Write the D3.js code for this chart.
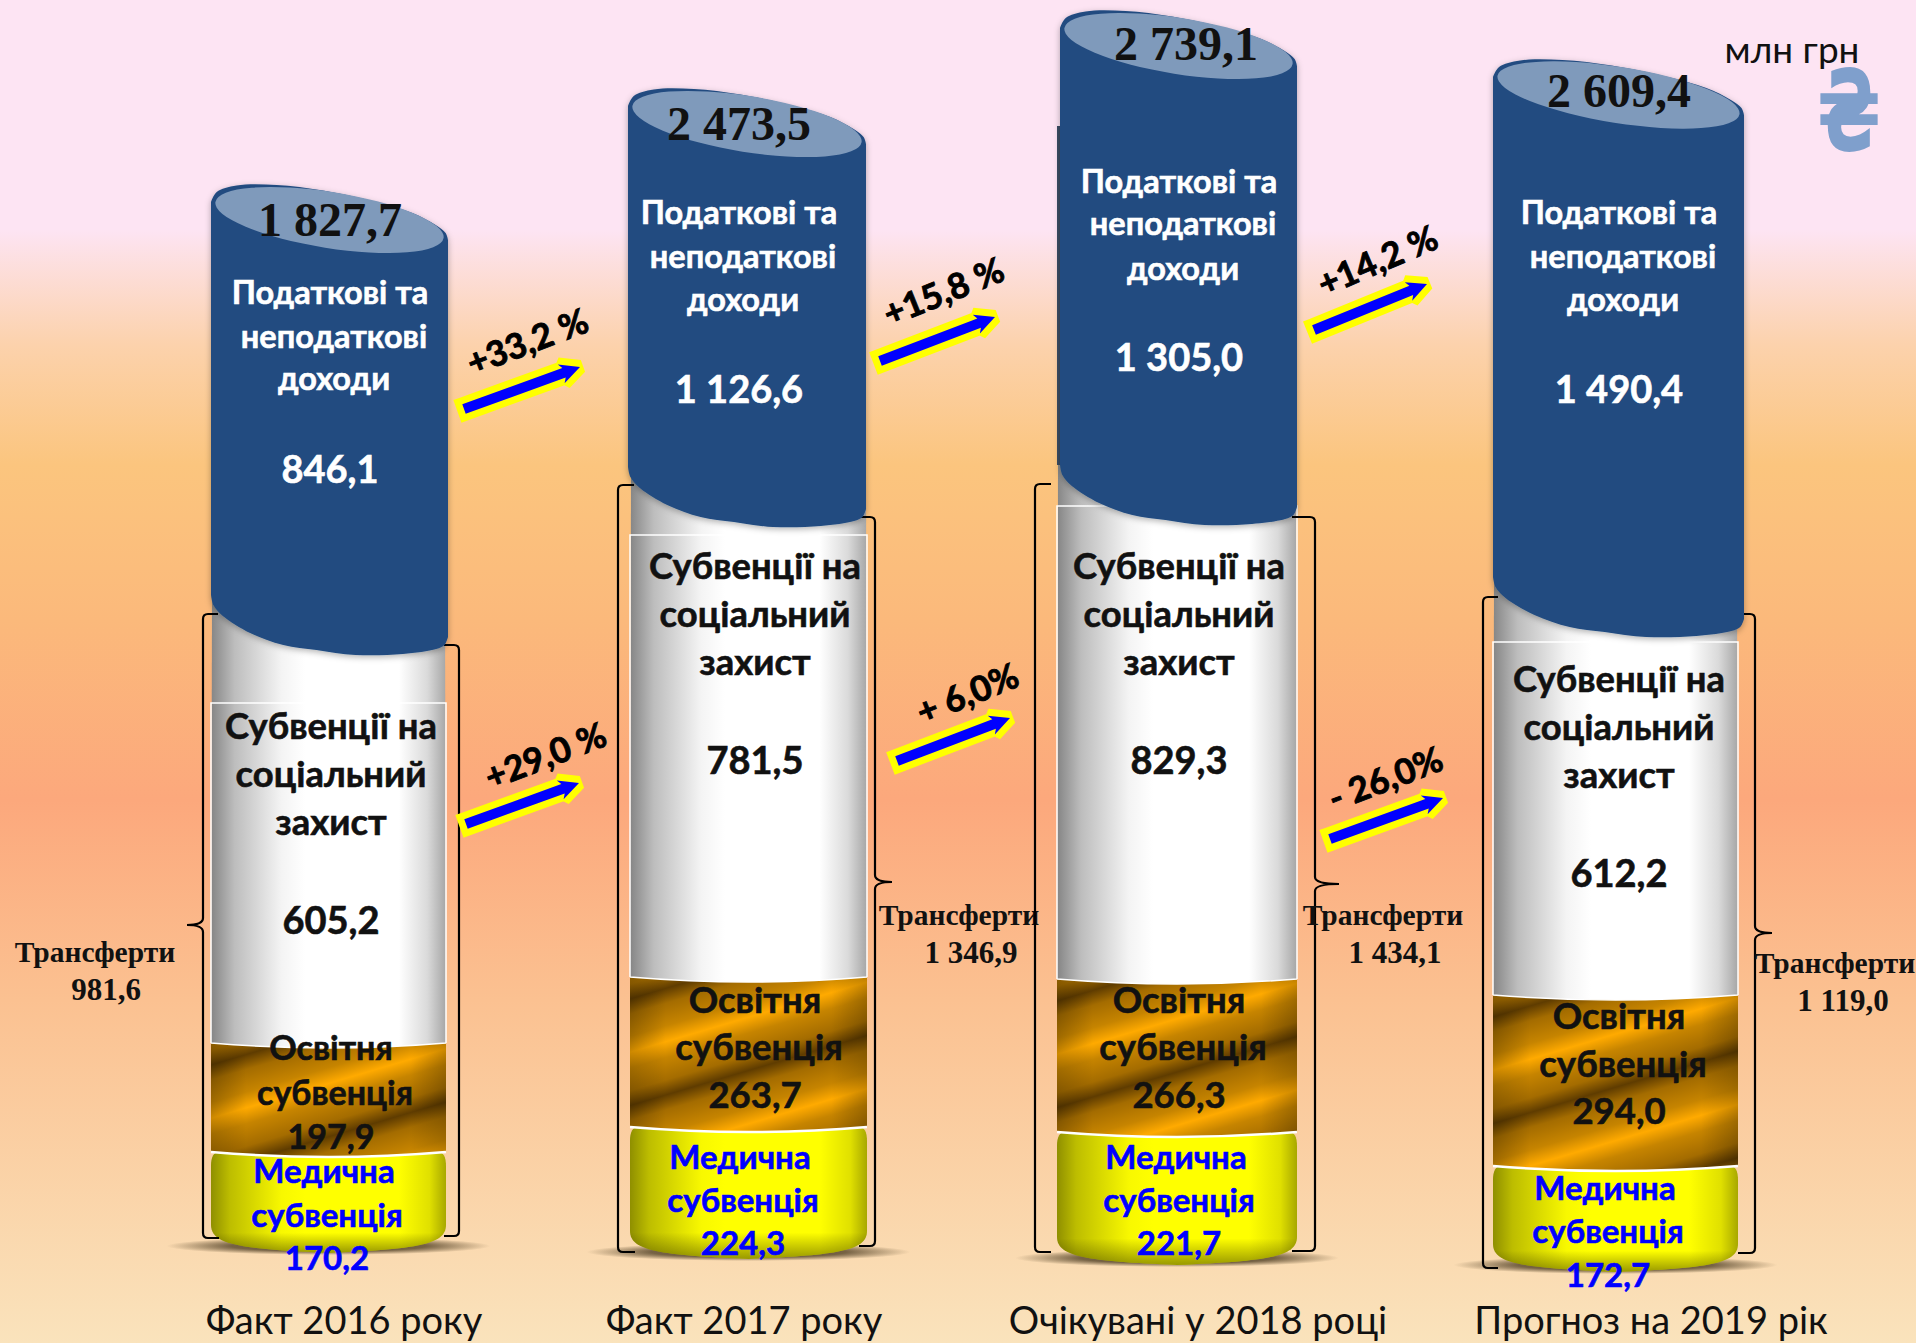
<!DOCTYPE html>
<html>
<head>
<meta charset="utf-8">
<script src="https://cdn.jsdelivr.net/npm/d3@7"></script>
<style>
html, body { margin: 0; padding: 0; background: #fff; }
svg { display: block; }
.sans { font-family: Lato, "Noto Sans", sans-serif; }
.serif { font-family: "Liberation Serif", serif; font-weight: bold; }
</style>
</head>
<body>
<svg id="chart" width="1918" height="1343"></svg>
<script>
// data
var categories = ["Факт 2016 року", "Факт 2017 року", "Очікувані у 2018 році", "Прогноз на 2019 рік"];
var totals = [1827.7, 2473.5, 2739.1, 2609.4];
var taxIncome = [846.1, 1126.6, 1305.0, 1490.4];
var socialSubvention = [605.2, 781.5, 829.3, 612.2];
var educationSubvention = [197.9, 263.7, 266.3, 294.0];
var medicalSubvention = [170.2, 224.3, 221.7, 172.7];
var transfers = [981.6, 1346.9, 1434.1, 1119.0];
var incomeGrowth = ["+33,2 %", "+15,8 %", "+14,2 %"];
var transferGrowth = ["+29,0 %", "+ 6,0%", "- 26,0%"];
var taxLines = ["Податкові та", "неподаткові", "доходи"];
var socialLines = ["Субвенції на", "соціальний", "захист"];
var eduLines = ["Освітня", "субвенція"];
var medLines = ["Медична", "субвенція"];

// layout. The poster is not drawn to one common scale, each column has its own
// piecewise scale: base, medical top, education top, social top, column top
var stackRange = [
	[1253, 1152, 1043, 655, 184],
	[1259, 1127, 977, 527, 88],
	[1265, 1132, 979, 525, 10],
	[1272, 1166, 995, 637, 59]
];
var boxTop = [703, 535, 506, 642];
var lowerX = [[211, 446], [630, 867], [1057, 1297], [1493, 1738]];
var blueX = [[211, 448], [628, 866], [1060, 1297], [1493, 1744]];
var W = 1916, H = 1343;

var taxText = [{cx: 330, y: [304, 348, 390, 483]}, {cx: 739, y: [224, 268, 311, 403]}, {cx: 1179, y: [193, 235, 280, 371]}, {cx: 1619, y: [224, 268, 311, 403]}];
var socText = [{cx: 331, y: 739}, {cx: 755, y: 579}, {cx: 1179, y: 579}, {cx: 1619, y: 692}];
var eduText = [{cx: 331, y: [1060, 1105, 1149], fs: 34}, {cx: 755, y: [1013, 1060, 1108], fs: 36.5}, {cx: 1179, y: [1013, 1060, 1108], fs: 36.5}, {cx: 1619, y: [1029, 1077, 1124], fs: 36.5}];
var medText = [{cx: 324, y: [1183, 1227, 1270]}, {cx: 740, y: [1169, 1212, 1255]}, {cx: 1176, y: [1169, 1212, 1255]}, {cx: 1605, y: [1200, 1243, 1287]}];
var totalText = [{cx: 330, y: 236}, {cx: 739, y: 140}, {cx: 1186, y: 60}, {cx: 1619, y: 107}];
var transText = [{cx: 95, cxv: 106, y: 962}, {cx: 959, cxv: 971, y: 925}, {cx: 1383, cxv: 1395, y: 925}, {cx: 1835, cxv: 1843, y: 973}];
var catText = [344, 744, 1198, 1651];

var brackets = [
	{lx: 203, lTop: 614, lBot: 1238, lEnd: [218, 219], rx: 459, rTop: 645, rBot: 1236, rEnd: [444, 444], tipY: 925, tipX: 187},
	{lx: 618, lTop: 485, lBot: 1252, lEnd: [634, 635], rx: 875, rTop: 517, rBot: 1246, rEnd: [859, 859], tipY: 882, tipX: 892},
	{lx: 1035, lTop: 484, lBot: 1252, lEnd: [1051, 1051], rx: 1315, rTop: 517, rBot: 1251, rEnd: [1292, 1292], tipY: 884, tipX: 1339},
	{lx: 1483, lTop: 597, lBot: 1268, lEnd: [1498, 1498], rx: 1755, rTop: 614, rBot: 1253, rEnd: [1744, 1738], tipY: 933, tipX: 1772}
];

var incomeArrows = [{from: [464, 409], to: [580, 367], tx: [528, 343]}, {from: [880, 361], to: [995, 317], tx: [944, 293]}, {from: [1314, 330], to: [1427, 284], tx: [1378, 262]}];
var transferArrows = [{from: [466, 824], to: [579, 783], tx: [546, 757]}, {from: [897, 761], to: [1010, 718], tx: [968, 695]}, {from: [1330, 839], to: [1443, 798], tx: [1386, 780]}];

// outline of the tilted top and the bottom of the blue cylinder, [share of width, px from edge]
var rimProfile = [[0, 18], [.024, 8], [.108, 1.5], [.277, 1], [.473, 6.5], [.697, 18], [.85, 29], [.948, 41], [.99, 49], [1, 56]];
var hemProfile = [[1, 18], [.985, 10], [.95, 6], [.81, 1], [.61, 0], [.445, 5], [.305, 10], [.165, 22], [.05, 39], [.01, 50], [0, 60]];

var fmt = function(v) {
	var s = v.toFixed(1).replace(".", ",");
	return s.replace(/^(\d)(\d{3})/, "$1 $2");
};

var svg = d3.select("#chart");
var defs = svg.append("defs");

function addGradient(id, stops, attrs) {
	var g = defs.append("linearGradient").attr("id", id);
	Object.keys(attrs || {}).forEach(function(k) { g.attr(k, attrs[k]); });
	stops.forEach(function(s) {
		var st = g.append("stop").attr("offset", s[0]).attr("stop-color", s[1]);
		if (s[2] !== undefined) st.attr("stop-opacity", s[2]);
	});
}

addGradient("bg", [[0, "#FDE4F3"], [230 / H, "#FDE4F3"], [345 / H, "#FCD2AC"], [465 / H, "#FBC57E"], [620 / H, "#FBB97B"], [800 / H, "#FCA87C"], [1000 / H, "#FBC191"], [1, "#FAE3BC"]], {x1: 0, y1: 0, x2: 0, y2: 1});
addGradient("white", [[0, "#858585"], [.1, "#BDBDBD"], [.3, "#F4F4F4"], [.4, "#FFFFFF"], [.8, "#FFFFFF"], [.92, "#DADADA"], [1, "#A6A6A6"]]);
addGradient("yellow", [[0, "#8F8F00"], [.08, "#BDBD00"], [.3, "#F8F800"], [.4, "#FFFF00"], [.8, "#FFFF00"], [.93, "#E0E000"], [1, "#A8A800"]]);
addGradient("yellowShade", [[0, "#333300", 0], [.8, "#333300", 0], [1, "#333300", .5]], {x1: 0, y1: 0, x2: 0, y2: 1});
addGradient("brownSide", [[0, "#000", .2], [.15, "#000", 0], [.85, "#000", 0], [1, "#000", .2]]);

var shadowGrad = defs.append("radialGradient").attr("id", "floor");
shadowGrad.append("stop").attr("offset", 0).attr("stop-color", "#4A3A20").attr("stop-opacity", .9);
shadowGrad.append("stop").attr("offset", .6).attr("stop-color", "#4A3A20").attr("stop-opacity", .75);
shadowGrad.append("stop").attr("offset", 1).attr("stop-color", "#4A3A20").attr("stop-opacity", 0);

var glow = defs.append("filter").attr("id", "soft").attr("x", "-10%").attr("y", "-10%").attr("width", "120%").attr("height", "120%");
glow.append("feDropShadow").attr("dx", 0).attr("dy", 2).attr("stdDeviation", 3).attr("flood-color", "#000").attr("flood-opacity", .3);

svg.append("rect").attr("width", W).attr("height", H).attr("fill", "url(#bg)");

var profileLine = d3.line().curve(d3.curveCatmullRom.alpha(.5));

columnsDraw();
arrowsDraw();

svg.append("text").attr("class", "sans").attr("x", 1792).attr("y", 63).attr("text-anchor", "middle")
	.attr("font-size", 37).attr("fill", "#111").text("млн грн");
svg.append("text").attr("transform", "translate(1849 150) scale(.66 1)").attr("text-anchor", "middle")
	.attr("font-family", "DejaVu Sans").attr("font-weight", "bold").attr("font-size", 112).attr("fill", "#7F9FCC").text("₴");

function columnsDraw() {
	categories.forEach(function(cat, i) {
		var g = svg.append("g").attr("class", "column");
		var cum = d3.cumsum([medicalSubvention[i], educationSubvention[i], socialSubvention[i], taxIncome[i]]);
		var y = d3.scaleLinear().domain([0].concat(Array.from(cum))).range(stackRange[i]);
		var x0 = lowerX[i][0], x1 = lowerX[i][1];
		var cx = (x0 + x1) / 2;
		var yBase = y(0), yMed = y(cum[0]), yEdu = y(cum[1]), ySoc = y(cum[2]), yTop = y(cum[3]);
		var sag = 5;

		// floor shadow
		g.append("ellipse").attr("cx", cx).attr("cy", yBase - 7).attr("rx", 162).attr("ry", 9).attr("fill", "url(#floor)");

		// medical
		var medPath = d3.path();
		medPath.moveTo(x0 + 8, yMed);
		medPath.lineTo(x1 - 8, yMed);
		medPath.quadraticCurveTo(x1, yMed, x1, yMed + 14);
		medPath.lineTo(x1, yBase - 28);
		medPath.bezierCurveTo(x1, yBase - 8, x1 - 30, yBase - 4, cx, yBase);
		medPath.bezierCurveTo(x0 + 30, yBase - 4, x0, yBase - 8, x0, yBase - 28);
		medPath.lineTo(x0, yMed + 14);
		medPath.quadraticCurveTo(x0, yMed, x0 + 8, yMed);
		medPath.closePath();
		g.append("path").attr("d", medPath.toString()).attr("fill", "url(#yellow)");
		g.append("path").attr("d", medPath.toString()).attr("fill", "url(#yellowShade)");

		// education, the stripes start from the top left corner of each column
		var by = yEdu + 22;
		addGradient("brown" + i, [[0, "#5F3C00"], [.14, "#A46C00"], [.35, "#C68400"], [.5, "#FFAA00"], [.65, "#C68400"], [.86, "#A46C00"], [1, "#5F3C00"]],
			{gradientUnits: "userSpaceOnUse", x1: x0, y1: by, x2: x0 + 29, y2: by + 98, spreadMethod: "repeat"});
		var eduPath = d3.path();
		eduPath.moveTo(x0, yEdu);
		eduPath.lineTo(x1, yEdu);
		eduPath.lineTo(x1, yMed);
		eduPath.quadraticCurveTo(cx, yMed + sag * 2, x0, yMed);
		eduPath.closePath();
		g.append("path").attr("d", eduPath.toString()).attr("fill", "url(#brown" + i + ")");
		g.append("path").attr("d", eduPath.toString()).attr("fill", "url(#brownSide)");
		var eduEdge = d3.path();
		eduEdge.moveTo(x1, yMed);
		eduEdge.quadraticCurveTo(cx, yMed + sag * 2, x0, yMed);
		g.append("path").attr("d", eduEdge.toString()).attr("fill", "none").attr("stroke", "#fff").attr("stroke-width", 2.5);

		// social: one cylinder running up behind the blue one, with the box line on it
		var socPath = d3.path();
		socPath.moveTo(x0 + 1, ySoc - 60);
		socPath.lineTo(x1 - 1, ySoc - 60);
		socPath.lineTo(x1, yEdu);
		socPath.quadraticCurveTo(cx, yEdu + sag * 2, x0, yEdu);
		socPath.closePath();
		g.append("path").attr("d", socPath.toString()).attr("fill", "url(#white)");
		var socEdge = d3.path();
		socEdge.moveTo(x1, yEdu);
		socEdge.quadraticCurveTo(cx, yEdu + sag * 2, x0, yEdu);
		socEdge.moveTo(x0, yEdu);
		socEdge.lineTo(x0, boxTop[i]);
		socEdge.lineTo(x1, boxTop[i]);
		socEdge.lineTo(x1, yEdu);
		g.append("path").attr("d", socEdge.toString()).attr("fill", "none").attr("stroke", "#fff").attr("stroke-width", 1.5);

		// brackets go under the blue cylinder
		bracketDraw(g, brackets[i], i);

		// blue
		var bx0 = blueX[i][0], bw = blueX[i][1] - bx0;
		var rim = rimProfile.map(function(d) { return [bx0 + d[0] * bw, yTop + d[1]]; });
		var hem = hemProfile.map(function(d) { return [bx0 + d[0] * bw, ySoc - d[1]]; });
		var blue = profileLine(rim) + "L" + profileLine(hem).slice(1) + "Z";
		if (i === 2) {
			g.append("rect").attr("x", bx0 - 3).attr("y", 126).attr("width", 10).attr("height", ySoc - 126 - 60).attr("fill", "#3B4C63");
		}
		g.append("path").attr("d", blue).attr("fill", "#214C80").attr("filter", "url(#soft)");
		g.append("ellipse")
			.attr("cx", bx0 + bw / 2).attr("cy", yTop + 36).attr("rx", bw / 2 - 3).attr("ry", 28)
			.attr("transform", "rotate(9 " + (bx0 + bw / 2) + " " + (yTop + 36) + ")")
			.attr("fill", "#7F9ABB");

		// texts
		var tt = taxText[i];
		taxLines.forEach(function(t, k) {
			label(g, tt.cx + (k ? 4 : 0), tt.y[k], t, 32.5, "#fff");
		});
		label(g, tt.cx, tt.y[3], fmt(taxIncome[i]), 38, "#fff");

		var st = socText[i];
		socialLines.forEach(function(t, k) {
			label(g, st.cx, st.y + k * 48, t, 36.4, "#111");
		});
		label(g, st.cx, st.y + 195, fmt(socialSubvention[i]), 38, "#111");

		var et = eduText[i];
		eduLines.forEach(function(t, k) {
			label(g, et.cx + (k ? 4 : 0), et.y[k], t, et.fs, "#111");
		});
		label(g, et.cx, et.y[2], fmt(educationSubvention[i]), et.fs, "#111");

		var mt = medText[i];
		medLines.forEach(function(t, k) {
			label(g, mt.cx + (k ? 3 : 0), mt.y[k], t, 33, "#0000FF");
		});
		label(g, mt.cx + 3, mt.y[2], fmt(medicalSubvention[i]), 33, "#0000FF");

		g.append("text").attr("class", "serif").attr("x", totalText[i].cx).attr("y", totalText[i].y)
			.attr("text-anchor", "middle").attr("font-size", 48).attr("fill", "#111").text(fmt(totals[i]));

		var tr = transText[i];
		g.append("text").attr("class", "serif").attr("x", tr.cx).attr("y", tr.y)
			.attr("text-anchor", "middle").attr("font-size", 29.5).attr("fill", "#111").text("Трансферти");
		g.append("text").attr("class", "serif").attr("x", tr.cxv).attr("y", tr.y + 38)
			.attr("text-anchor", "middle").attr("font-size", 31).attr("fill", "#111").text(fmt(transfers[i]));

		g.append("text").attr("class", "sans").attr("x", catText[i]).attr("y", 1334)
			.attr("text-anchor", "middle").attr("font-size", 38).attr("fill", "#111").text(cat);
	});
}

function label(g, x, y, t, fs, color) {
	g.append("text").attr("class", "sans").attr("x", x).attr("y", y)
		.attr("text-anchor", "middle").attr("font-size", fs).attr("font-weight", "bold")
		.attr("fill", color).attr("stroke", color).attr("stroke-width", .6).text(t);
}

function bracketDraw(g, b, i) {
	var r = 5;
	var left = d3.path();
	left.moveTo(b.lEnd[1], b.lBot);
	left.lineTo(b.lx + r, b.lBot);
	left.quadraticCurveTo(b.lx, b.lBot, b.lx, b.lBot - r);
	if (i === 0) {
		left.lineTo(b.lx, b.tipY + 7);
		left.quadraticCurveTo(b.lx, b.tipY, b.tipX, b.tipY);
		left.quadraticCurveTo(b.lx, b.tipY, b.lx, b.tipY - 7);
	}
	left.lineTo(b.lx, b.lTop + r);
	left.quadraticCurveTo(b.lx, b.lTop, b.lx + r, b.lTop);
	left.lineTo(b.lEnd[0], b.lTop);
	var right = d3.path();
	right.moveTo(b.rEnd[1], b.rBot);
	right.lineTo(b.rx - r, b.rBot);
	right.quadraticCurveTo(b.rx, b.rBot, b.rx, b.rBot - r);
	if (i !== 0) {
		right.lineTo(b.rx, b.tipY + 7);
		right.quadraticCurveTo(b.rx, b.tipY, b.tipX, b.tipY);
		right.quadraticCurveTo(b.rx, b.tipY, b.rx, b.tipY - 7);
	}
	right.lineTo(b.rx, b.rTop + r);
	right.quadraticCurveTo(b.rx, b.rTop, b.rx - r, b.rTop);
	right.lineTo(b.rEnd[0], b.rTop);
	[left, right].forEach(function(p) {
		g.append("path").attr("d", p.toString()).attr("fill", "none").attr("stroke", "#000").attr("stroke-width", 2.2);
	});
}

function arrowsDraw() {
	var g = svg.append("g").attr("class", "arrows");
	function one(a, txt) {
		var dx = a.to[0] - a.from[0], dy = a.to[1] - a.from[1];
		var len = Math.sqrt(dx * dx + dy * dy);
		var ang = Math.atan2(dy, dx) * 180 / Math.PI;
		var pts = [[0, -5], [len - 17, -5], [len - 20, -10], [len, 0], [len - 20, 10], [len - 17, 5], [0, 5]];
		g.append("polygon")
			.attr("points", pts.join(" "))
			.attr("transform", "translate(" + a.from + ") rotate(" + ang + ")")
			.attr("fill", "#0000FF").attr("stroke", "#FFFF00").attr("stroke-width", 14)
			.attr("stroke-linejoin", "miter").attr("stroke-miterlimit", 2).attr("paint-order", "stroke");
		g.append("text").attr("class", "sans")
			.attr("transform", "translate(" + a.tx + ") rotate(" + (ang - 1) + ")")
			.attr("text-anchor", "middle").attr("dy", 11).attr("font-size", 35).attr("font-weight", "bold")
			.attr("fill", "#000").attr("stroke", "#000").attr("stroke-width", .9).text(txt);
	}
	incomeArrows.forEach(function(a, i) { one(a, incomeGrowth[i]); });
	transferArrows.forEach(function(a, i) { one(a, transferGrowth[i]); });
}
</script>
</body>
</html>
